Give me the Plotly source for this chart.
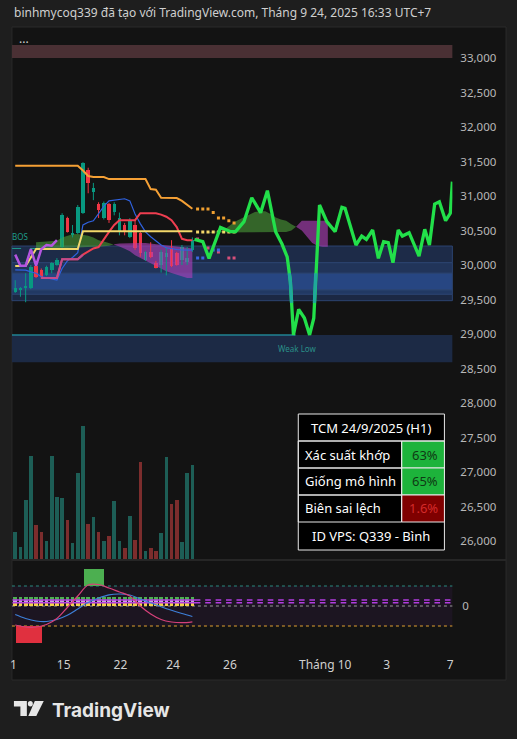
import plotly.graph_objects as go

W, H = 517, 739

# ---------------- data ----------------
candle_idx = list(range(35))
opens = [29610, 29640, 29670, 29670, 29990, 29930, 29860, 29930, 30000, 30260,
         30680, 30430, 30460, 30750, 31380, 31060, 30880, 30680, 30880, 30770,
         30480, 30580, 30410, 30580, 30460, 30070, 30190, 30030, 30000, 30120,
         30250, 30170, 30070, 30040, 30220]
highs = [29780, 29680, 29880, 30000, 30010, 29950, 29990, 30040, 30100, 30750,
         30700, 30580, 30870, 31490, 31410, 31190, 30910, 30920, 30900, 30910,
         30760, 30610, 30680, 30650, 30480, 30200, 30330, 30060, 30220, 30250,
         30360, 30190, 30290, 30260, 30400]
lows = [29595, 29540, 29460, 29650, 29810, 29800, 29840, 29880, 29990, 30250,
        30470, 30400, 30450, 30740, 31040, 30940, 30680, 30660, 30610, 30720,
        30430, 30430, 30390, 30220, 30120, 30060, 30100, 29950, 29890, 29850,
        29970, 29990, 30000, 30000, 30190]
closes = [29670, 29660, 29700, 29970, 29830, 29820, 29970, 30030, 30070, 30720,
          30480, 30460, 30840, 31480, 31190, 31110, 30800, 30900, 30650, 30880,
          30680, 30480, 30650, 30250, 30170, 30190, 30120, 29960, 30190, 30170,
          29980, 30000, 30260, 30100, 30360]
volumes = [405, 185, 885, 1545, 510, 405, 270, 1545, 925, 915,
           585, 245, 1290, 1995, 525, 635, 405, 275, 345, 870,
           275, 165, 645, 285, 1455, 120, 165, 125, 395, 1530,
           825, 885, 255, 1290, 1405]

orange_line = [31440, 31440, 31440, 31440, 31440, 31440, 31440, 31440, 31440, 31440,
               31440, 31440, 31440, 31370, 31290, 31275, 31275, 31275, 31245, 31245,
               31245, 31245, 31245, 31245, 31245, 31245, 31100, 31090, 30975, 30975,
               30975, 30970, 30930, 30870, 30815]
blue_line = [29930, 29930, 29925, 29900, 29880, 29830, 29810, 29800, 29780, 29950,
             30060, 30110, 30180, 30580, 30620, 30640, 30740, 30850, 30930, 30940,
             30950, 30960, 30930, 30740, 30600, 30480, 30410, 30350, 30290, 30250,
             30235, 30225, 30220, 30217, 30217]
red_idx = list(range(5, 35))
red_line = [29812, 29812, 29812, 29812, 30085, 30085, 30085, 30085, 30150, 30200,
            30240, 30260, 30380, 30480, 30580, 30650, 30650, 30650, 30650, 30750,
            30750, 30750, 30750, 30730, 30700, 30650, 30550, 30380, 30360, 30360]
red_pink_len = 9   # first points of the red line are drawn in a mauve tone
yellow_line = [29985, 29985, 29985, 30110, 30232, 30232, 30232, 30232, 30232, 30232,
               30232, 30232, 30232, 30490, 30490, 30490, 30490, 30490, 30490, 30490,
               30490, 30490, 30490, 30490, 30490, 30490, 30490, 30490, 30490, 30490,
               30490, 30490, 30490, 30490, 30490]
purple_idx = list(range(0, 9))
purple_line = [30150, 29990, 29990, 30230, 29990, 30230, 30290, 30280, 30360]

# Ichimoku-like cloud (None = gap)
cloud_idx = list(range(4, 61))
span_a = [30330, 30335, 30340, 30345, 30350, 30400, 30420, 30445, 30450, 30440,
          30425, 30400, 30360, 30340, 30315, 30295, 30270, 30235, 30200, 30140,
          30100, 30060, 30020, 29980, 29950, 29910, 29885, 29860, 29840, 29810,
          29810, None, None, 30470, 30480, 30490, 30500, 30560, 30620, 30660,
          30700, 30740, 30770, 30780, 30780, 30740, 30690, 30660, 30640, 30590,
          30550, 30500, 30410, 30320, 30280, 30265, 30265]
span_b = [30232, 30232, 30232, 30232, 30232, 30240, 30245, 30250, 30255, 30260,
          30265, 30265, 30265, 30270, 30280, 30300, 30310, 30315, 30315, 30320,
          30320, 30320, 30320, 30310, 30300, 30290, 30280, 30270, 30260, 30250,
          30240, None, None, 30465, 30470, 30472, 30475, 30478, 30480, 30480,
          30480, 30480, 30480, 30480, 30480, 30480, 30480, 30480, 30480, 30500,
          30560, 30640, 30640, 30640, 30640, 30640, 30640]

# future dotted levels
orange_dot_idx = [35, 36, 37, 38, 39, 40, 41, 42]
orange_dots = [30812, 30812, 30812, 30760, 30680, 30680, 30640, 30610]
yellow_dot_idx = [35, 36, 37, 38, 39, 40, 41, 42]
yellow_dots = [30478, 30478, 30478, 30478, 30478, 30478, 30478, 30478]
pink_dot_idx = [35, 37, 39, 41, 42]
pink_dots = [30377, 30246, 30188, 30100, 30100]
blue_dot_idx = [35, 36, 38, 39]
blue_dots = [30100, 30100, 30217, 30217]

# projected path
proj_idx = [34.4, 36.0, 37.2, 39.4, 41.4, 42.3, 43.9, 45.4, 47.1, 48.4,
            50.0, 51.2, 52.2, 52.8, 53.4, 54.4, 55.5, 56.5, 57.3, 57.9,
            58.4, 59.8, 61.4, 62.7, 63.3, 65.4, 66.5, 67.4, 68.6, 69.7,
            70.7, 71.6, 72.5, 73.5, 74.3, 75.6, 77.5, 78.6, 79.5, 80.5,
            81.4, 82.6, 83.5, 83.9]
proj_price = [30372, 30338, 30097, 30546, 30483, 30483, 30628, 30975, 30758, 31077,
              30478, 30304, 30116, 29768, 28986, 29358, 29232, 28986, 29228, 30265,
              30870, 30628, 30483, 30836, 30822, 30290, 30420, 30372, 30507, 30097,
              30338, 30323, 30033, 30507, 30420, 30468, 30130, 30517, 30290, 30884,
              30917, 30642, 30749, 31207]

# zones (price low, price high, colour)
zones = [(30033, 30275, "#1d2b48"), (29880, 30033, "#213459"), (29638, 29880, "#274682"),
         (29575, 29638, "#213963"), (29483, 29575, "#1b2843")]
weak_low_zone = (28590, 28986)
weak_low_end_idx = 53.8
supply_zone = (33000, 33190)
bos_level = 30240
bos_idx = (-0.6, 4.0)

# oscillator
osc_idx = [0, 2, 4, 6, 8, 10, 12, 14, 16, 18, 20, 22, 24, 26, 28, 30, 32, 34]
osc_blue = [-8.5, -12.5, -15, -15.5, -13.5, -9.3, -3, 3.5, 8, 11.2, 12, 11, 7, 3.2, -0.7, -4.3, -7.5, -10.5]
osc_pink = [-19, -21, -21, -18.5, -12.5, -1.5, 10, 21, 21.5, 18, 14, 10, 0, -8, -13.5, -16, -16.7, -15.8]
osc_upper, osc_lower = 20, -20
sig_up = (15.1, 4.0)   # centre idx, width in bars
sig_dn = (2.6, 5.0)
cell_idx = list(range(35))
mark_idx = list(range(35, 85, 2))

x_tick_pos = [-0.35, 9.3, 20.2, 30.3, 41.2, 59.5, 71.3, 83.5]
x_tick_txt = ["1", "15", "22", "24", "26", "Tháng 10", "3", "7"]
price_ticks = [26000, 26500, 27000, 27500, 28000, 28500, 29000, 29500,
               30000, 30500, 31000, 31500, 32000, 32500, 33000]

table_title = "TCM 24/9/2025 (H1)"
table_rows = [("Xác suất khớp", "63%"), ("Giống mô hình", "65%"), ("Biên sai lệch", "1.6%")]
table_footer = "ID VPS: Q339 - Bình"

# ---------------- helpers ----------------
def px(x):
    return x / W

def py(y):
    return 1 - y / H

X_RANGE = [-0.63, 83.9]
FONT = "Noto Sans"
UP, DN = "#089981", "#f23645"

fig = go.Figure()

# panel background
shapes = [dict(type="rect", xref="paper", yref="paper", x0=px(10), x1=px(507), y0=py(680), y1=py(27),
               fillcolor="#131313", line=dict(color="#2a2a2a", width=1), layer="below")]
# zones
shapes.append(dict(type="rect", xref="x domain", yref="y", x0=0, x1=1, y0=supply_zone[0], y1=supply_zone[1],
                   fillcolor="#4a3034", line=dict(width=0), layer="below"))
for lo, hi, col in zones:
    shapes.append(dict(type="rect", xref="x domain", yref="y", x0=0, x1=1, y0=lo, y1=hi,
                       fillcolor=col, line=dict(color="#2c4470", width=1), layer="below"))
shapes.append(dict(type="rect", xref="x domain", yref="y", x0=0, x1=1, y0=weak_low_zone[0], y1=weak_low_zone[1],
                   fillcolor="#1c2a45", line=dict(width=0), layer="below"))
shapes.append(dict(type="line", xref="x", yref="y", x0=X_RANGE[0], x1=weak_low_end_idx,
                   y0=weak_low_zone[1], y1=weak_low_zone[1], line=dict(color="#26b5c6", width=1), layer="below"))
shapes.append(dict(type="line", xref="x", yref="y", x0=bos_idx[0], x1=bos_idx[1], y0=bos_level, y1=bos_level,
                   line=dict(color="#1f9c8c", width=1, dash="dash"), layer="below"))
# oscillator band
shapes.append(dict(type="rect", xref="x domain", yref="y3", x0=0, x1=1, y0=osc_lower, y1=osc_upper,
                   fillcolor="rgba(45,25,60,0.35)", line=dict(width=0), layer="below"))
for lvl, col in [(osc_upper, "#2a8a80"), (0, "#9a9a9a"), (osc_lower, "#e0a030")]:
    shapes.append(dict(type="line", xref="x domain", yref="y3", x0=0, x1=1, y0=lvl, y1=lvl,
                       line=dict(color=col, width=1, dash="dot"), layer="below"))
# pane separator
shapes.append(dict(type="line", xref="paper", yref="paper", x0=px(10), x1=px(507), y0=py(560), y1=py(560),
                   line=dict(color="#262626", width=2)))

# cloud polygons
def cloud_polygons(idx, a, b):
    out, seg, prev = [], None, None
    for x, ya, yb in zip(idx, a, b):
        if ya is None or yb is None:
            if seg:
                out.append(seg)
            seg, prev = None, None
            continue
        up = ya >= yb
        if seg is not None and up != seg["up"]:
            qx, qa, qb = prev
            d0, d1 = qa - qb, ya - yb
            t = d0 / (d0 - d1)
            cx, cy = qx + t * (x - qx), qa + t * (ya - qa)
            seg["xs"].append(cx); seg["a"].append(cy); seg["b"].append(cy)
            out.append(seg)
            seg = {"up": up, "xs": [cx], "a": [cy], "b": [cy]}
        if seg is None:
            seg = {"up": up, "xs": [], "a": [], "b": []}
        seg["xs"].append(x); seg["a"].append(ya); seg["b"].append(yb)
        prev = (x, ya, yb)
    if seg:
        out.append(seg)
    return out

for seg in cloud_polygons(cloud_idx, span_a, span_b):
    col = "rgba(80,170,60,0.55)" if seg["up"] else "rgba(175,65,185,0.62)"
    fig.add_trace(go.Scatter(x=seg["xs"] + seg["xs"][::-1], y=seg["a"] + seg["b"][::-1],
                             fill="toself", fillcolor=col, line=dict(width=0), mode="lines",
                             hoverinfo="skip", showlegend=False))

# candles: wicks + bodies
for is_up, col in [(True, UP), (False, DN)]:
    wx, wy = [], []
    for i, o, h, l, c in zip(candle_idx, opens, highs, lows, closes):
        if (c >= o) == is_up:
            wx += [i, i, None]; wy += [l, h, None]
    fig.add_trace(go.Scatter(x=wx, y=wy, mode="lines", line=dict(color=col, width=1), showlegend=False,
                             hoverinfo="skip"))
body_base = [min(o, c) for o, c in zip(opens, closes)]
body_len = [max(abs(c - o), 12) for o, c in zip(opens, closes)]
body_col = [UP if c >= o else DN for o, c in zip(opens, closes)]
fig.add_trace(go.Bar(x=candle_idx, y=body_len, base=body_base, width=0.68,
                     marker=dict(color=body_col, line=dict(width=0)), showlegend=False))

# indicator lines
fig.add_trace(go.Scatter(x=candle_idx, y=orange_line, mode="lines", line=dict(color="#f5a035", width=2), showlegend=False))
fig.add_trace(go.Scatter(x=candle_idx, y=blue_line, mode="lines", line=dict(color="#2f62e0", width=1.2), showlegend=False))
fig.add_trace(go.Scatter(x=red_idx, y=red_line, mode="lines", line=dict(color="#ef3e50", width=2), showlegend=False))
fig.add_trace(go.Scatter(x=red_idx[:red_pink_len], y=red_line[:red_pink_len], mode="lines",
                         line=dict(color="#c04c8e", width=2), showlegend=False))
fig.add_trace(go.Scatter(x=candle_idx, y=yellow_line, mode="lines", line=dict(color="#f2d86a", width=2), showlegend=False))
fig.add_trace(go.Scatter(x=purple_idx, y=purple_line, mode="lines", line=dict(color="#b455e0", width=2.5), showlegend=False))

for xs, ys, col in [(orange_dot_idx, orange_dots, "#f0a030"), (yellow_dot_idx, yellow_dots, "#f2d86a"),
                    (pink_dot_idx, pink_dots, "#d8507a"), (blue_dot_idx, blue_dots, "#3a66e0")]:
    fig.add_trace(go.Scatter(x=xs, y=ys, mode="markers", marker=dict(color=col, size=3, symbol="square"),
                             showlegend=False))

# projection with teal band
fig.add_trace(go.Scatter(x=proj_idx, y=proj_price, mode="lines", line=dict(color="#22e04a", width=3.3),
                         showlegend=False))
BAND = (29450, 29880)
tx, ty = [], []
for k in range(len(proj_idx) - 1):
    x0, y0, x1, y1 = proj_idx[k], proj_price[k], proj_idx[k + 1], proj_price[k + 1]
    if y0 == y1:
        continue
    lo, hi = max(min(y0, y1), BAND[0]), min(max(y0, y1), BAND[1])
    if lo >= hi:
        continue
    xa = x0 + (lo - y0) / (y1 - y0) * (x1 - x0)
    xb = x0 + (hi - y0) / (y1 - y0) * (x1 - x0)
    tx += [xa, xb, None]; ty += [lo, hi, None]
fig.add_trace(go.Scatter(x=tx, y=ty, mode="lines", line=dict(color="#1fa89c", width=3.3), showlegend=False))

# volume
vol_cols = ["rgba(34,120,110,0.75)" if c >= o else "rgba(160,55,55,0.75)" for o, c in zip(opens, closes)]
fig.add_trace(go.Bar(x=candle_idx, y=volumes, marker=dict(color=vol_cols, line=dict(width=0)), width=0.7,
                     yaxis="y2", showlegend=False))

# oscillator
fig.add_trace(go.Bar(x=[sig_up[0]], y=[17], base=[osc_upper], width=[sig_up[1]], marker=dict(color="#4caf50", line=dict(width=0)),
                     yaxis="y3", showlegend=False))
fig.add_trace(go.Bar(x=[sig_dn[0]], y=[-17], base=[osc_lower], width=[sig_dn[1]], marker=dict(color="#e0303f", line=dict(width=0)),
                     yaxis="y3", showlegend=False))
for base, hgt, col in [(0, 3.5, "#f2d34a"), (3.5, 3.0, "#c9a8d8"), (6.5, 3.0, "#4caf50")]:
    fig.add_trace(go.Bar(x=cell_idx, y=[hgt] * len(cell_idx), base=[base] * len(cell_idx), width=0.72,
                         marker=dict(color=col, line=dict(width=0)), yaxis="y3", showlegend=False))
for lvl in (3.3, 6.0):
    fig.add_trace(go.Scatter(x=cell_idx + mark_idx, y=[lvl] * (len(cell_idx) + len(mark_idx)), mode="markers",
                             marker=dict(symbol="line-ew", size=4, line=dict(color="#b23de0", width=1.4)),
                             yaxis="y3", showlegend=False))
fig.add_trace(go.Scatter(x=osc_idx, y=osc_blue, mode="lines", line=dict(color="#3d7fd8", width=1.2, shape="spline"),
                         yaxis="y3", showlegend=False))
fig.add_trace(go.Scatter(x=osc_idx, y=osc_pink, mode="lines", line=dict(color="#d6407a", width=1.2, shape="spline"),
                         yaxis="y3", showlegend=False))

# ---------------- annotations ----------------
def note(x, y, text, size, color, xanchor="center", family=FONT):
    return dict(x=px(x), y=py(y), xref="paper", yref="paper", xanchor=xanchor, yanchor="middle",
                showarrow=False, text=text, font=dict(family=family, size=size, color=color))

ann = []
ann.append(note(10, 13, "binhmycoq339 đã tạo với TradingView.com, Tháng 9 24, 2025 16:33 UTC+7", 12, "#cfcfcf", "left"))
ann.append(note(22, 42, "···", 12, "#d0d0d0"))
ann.append(note(18, 236, "BOS", 8, "#1f9c8c"))
ann.append(note(297, 348, "Weak Low", 8, "#2a8f88"))

# table
TX0, TX1, TXM = 298, 445, 402
row_y = [414, 441, 468, 495, 522, 550]
TFS = 13
shapes.append(dict(type="rect", xref="paper", yref="paper", x0=px(TX0), x1=px(TX1), y0=py(row_y[-1]), y1=py(row_y[0]),
                   fillcolor="#000000", line=dict(color="#e8e8e8", width=1)))
val_bg = ["#1db33b", "#1db33b", "#7f0000"]
val_fg = ["#0f3a14", "#0f3a14", "#d42a2a"]
for k, (lab, val) in enumerate(table_rows):
    y0, y1 = row_y[k + 1], row_y[k + 2]
    shapes.append(dict(type="rect", xref="paper", yref="paper", x0=px(TXM), x1=px(TX1), y0=py(y1), y1=py(y0),
                       fillcolor=val_bg[k], line=dict(color="#e8e8e8", width=1)))
    shapes.append(dict(type="rect", xref="paper", yref="paper", x0=px(TX0), x1=px(TXM), y0=py(y1), y1=py(y0),
                       fillcolor="rgba(0,0,0,0)", line=dict(color="#e8e8e8", width=1)))
    ann.append(note(303, (y0 + y1) / 2, lab, TFS, "#ffffff", "left"))
    ann.append(note(441, (y0 + y1) / 2, val, TFS, val_fg[k], "right"))
shapes.append(dict(type="line", xref="paper", yref="paper", x0=px(TX0), x1=px(TX1), y0=py(row_y[1]), y1=py(row_y[1]),
                   line=dict(color="#e8e8e8", width=1)))
ann.append(note((TX0 + TX1) / 2, (row_y[0] + row_y[1]) / 2, table_title, TFS, "#ffffff"))
ann.append(note((TX0 + TX1) / 2, (row_y[4] + row_y[5]) / 2, table_footer, TFS, "#ffffff"))

# TradingView logo
def path(pts):
    return "M " + " L ".join(f"{px(a)},{py(b)}" for a, b in pts) + " Z"

LOGO = "#e6e6e6"
shapes.append(dict(type="path", xref="paper", yref="paper", path=path([(12, 701), (25, 701), (25, 716), (18.5, 716), (18.5, 706.5), (12, 706.5)]),
                   fillcolor=LOGO, line=dict(width=0)))
shapes.append(dict(type="circle", xref="paper", yref="paper", x0=px(26), x1=px(31), y0=py(706.5), y1=py(701),
                   fillcolor=LOGO, line=dict(width=0)))
shapes.append(dict(type="path", xref="paper", yref="paper", path=path([(33, 701), (42, 701), (34.5, 716), (26.5, 716)]),
                   fillcolor=LOGO, line=dict(width=0)))
ann.append(note(48, 710, "<b>TradingView</b>", 19, LOGO, "left", "Inter"))

fig.update_layout(
    width=W, height=H, margin=dict(l=0, r=0, t=0, b=0),
    paper_bgcolor="#1e1e1e", plot_bgcolor="#131313",
    showlegend=False, barmode="overlay", bargap=0,
    shapes=shapes, annotations=ann,
    xaxis=dict(domain=[px(10), px(453)], range=X_RANGE, anchor="y3", tickmode="array",
               tickvals=x_tick_pos, ticktext=x_tick_txt, showgrid=False, zeroline=False, showline=False,
               ticks="", tickfont=dict(family=FONT, size=12, color="#d0d0d0"), ticklabelstandoff=4,
               fixedrange=True),
    yaxis=dict(domain=[py(559), py(28)], range=[25739, 33435], side="right", anchor="x",
               tickmode="array", tickvals=price_ticks, tickformat=",d", showgrid=False, zeroline=False,
               ticks="", tickfont=dict(family=FONT, size=11.5, color="#b8b8b8"), ticklabelstandoff=7),
    yaxis2=dict(overlaying="y", range=[0, 7965], visible=False),
    yaxis3=dict(domain=[py(652), py(561)], range=[-46, 45], side="right", anchor="x", tickmode="array",
                tickvals=[0], ticktext=["0"], showgrid=False, zeroline=False, ticks="",
                tickfont=dict(family=FONT, size=11.5, color="#b8b8b8"), ticklabelstandoff=9),
)

fig.write_html("out.html", config={"displayModeBar": False},
               post_script="document.body.style.margin='0';document.body.style.overflow='hidden';")
